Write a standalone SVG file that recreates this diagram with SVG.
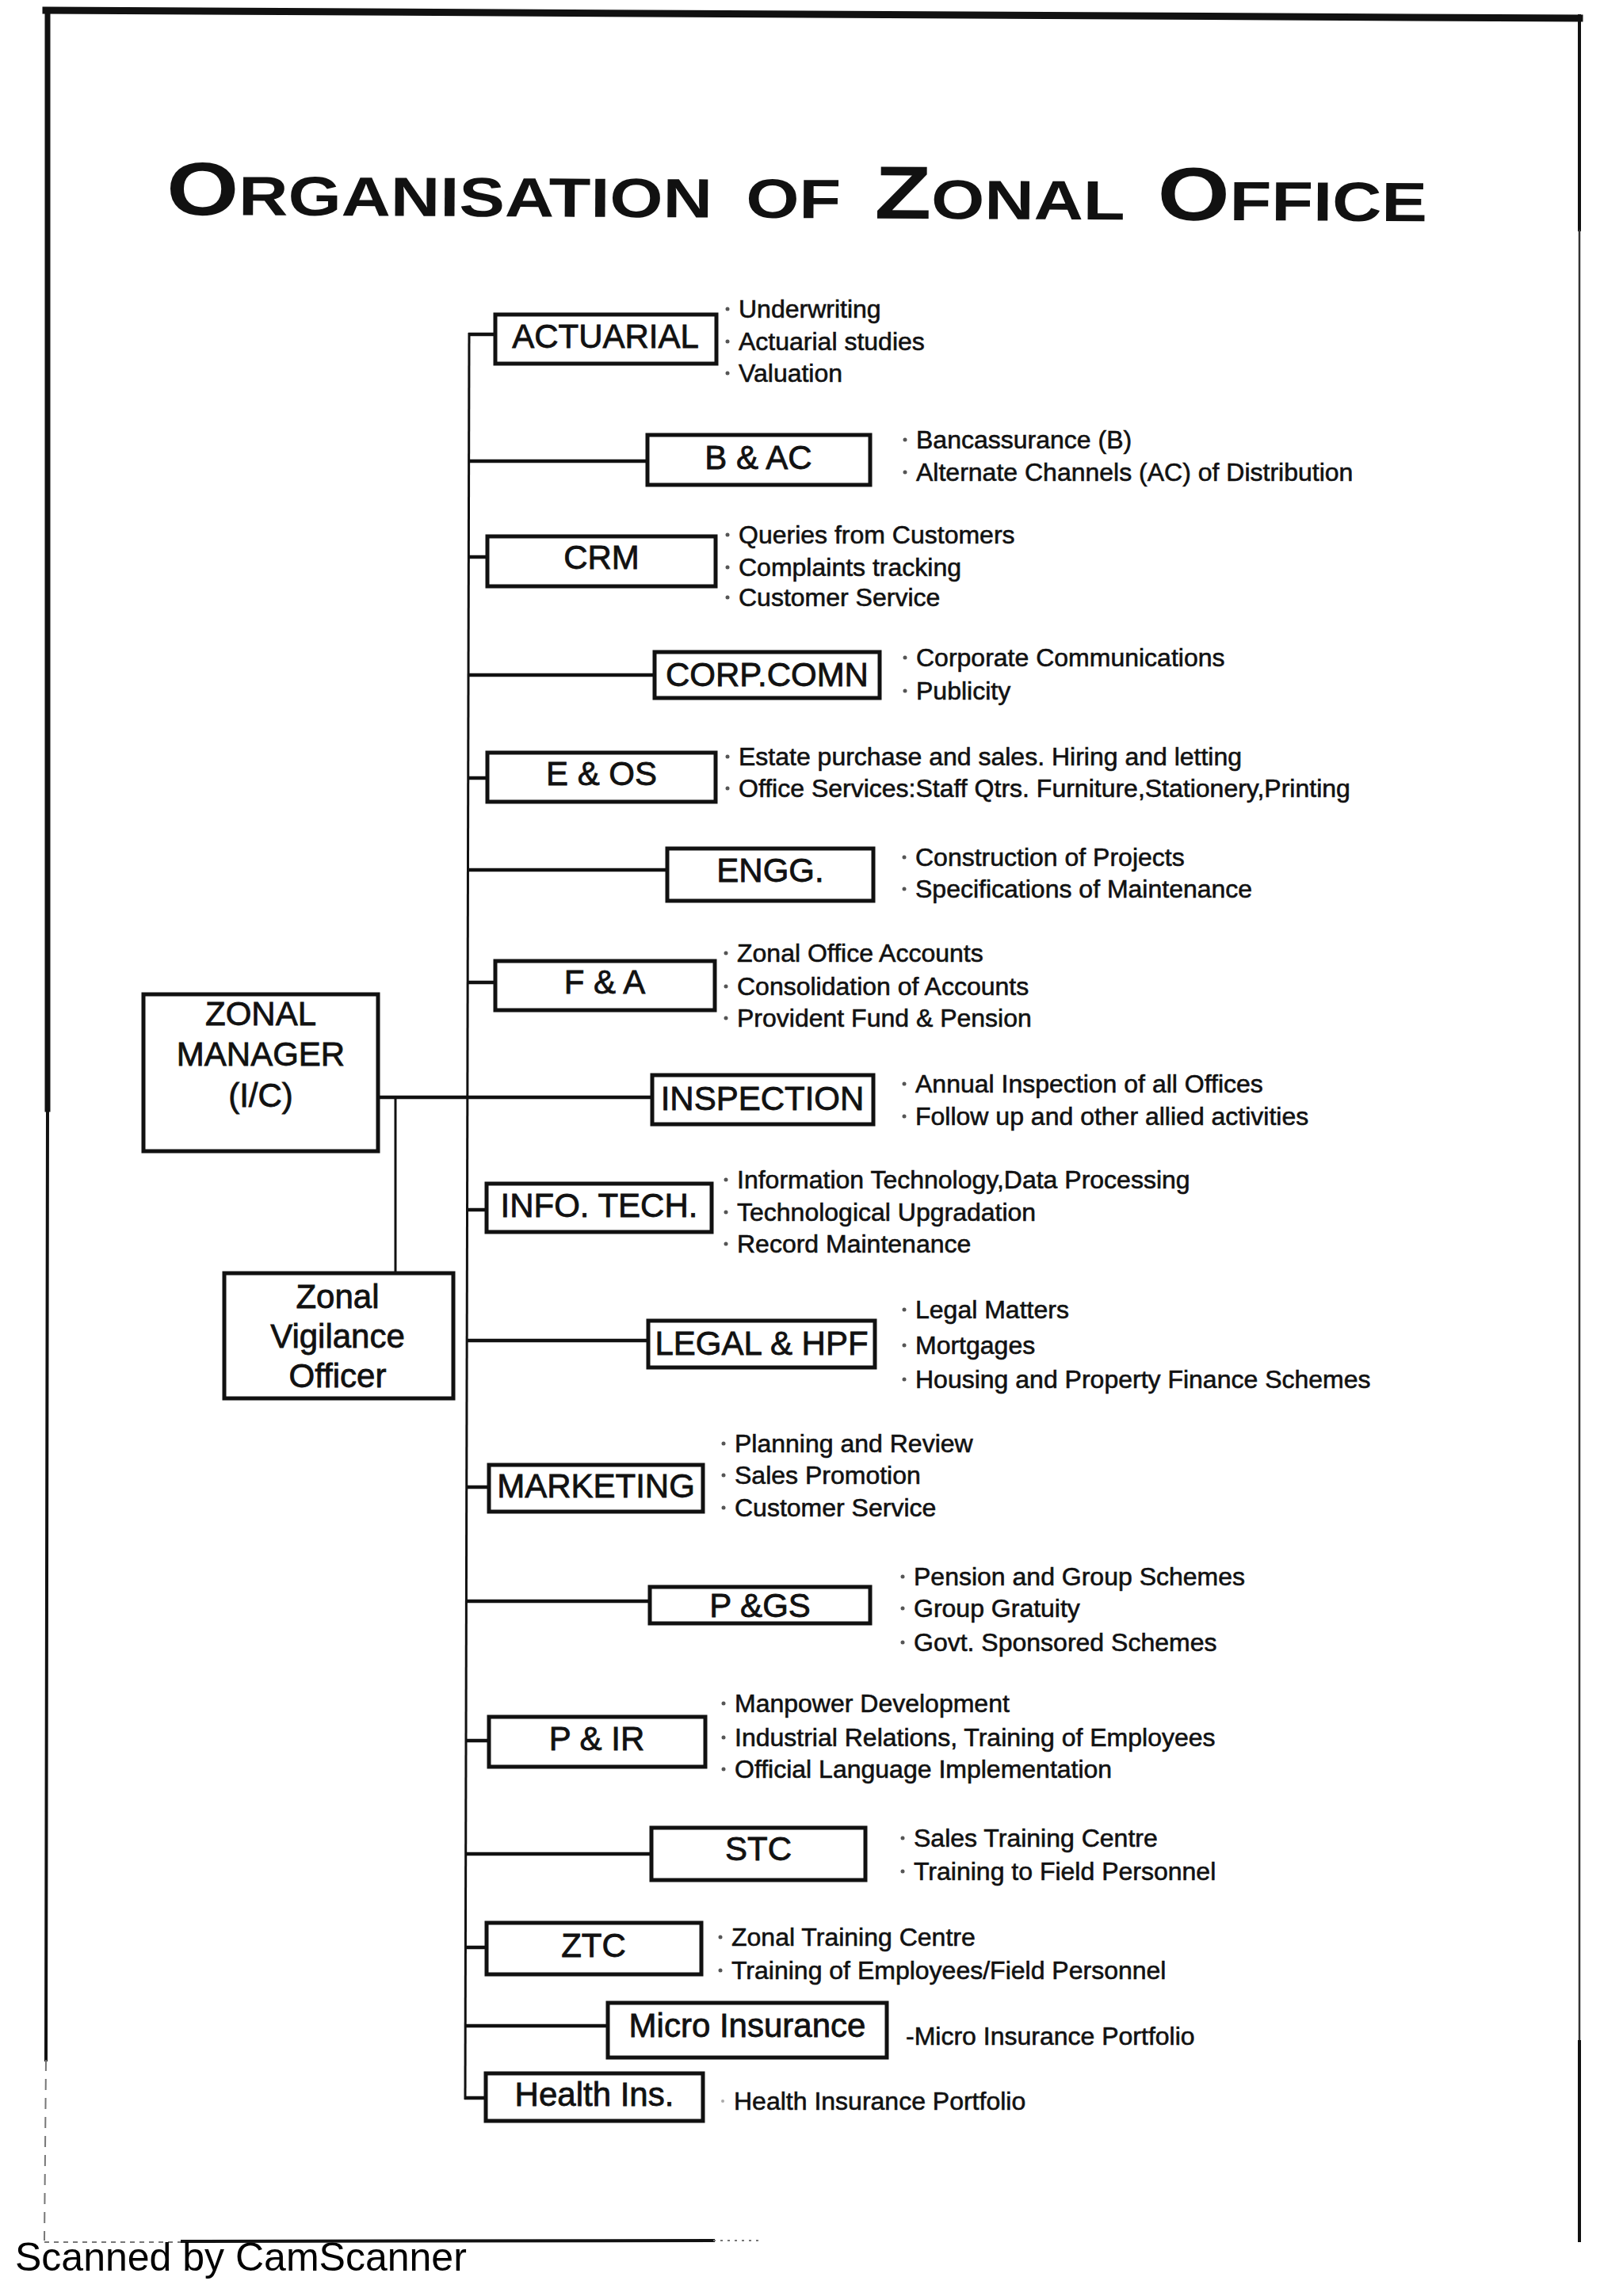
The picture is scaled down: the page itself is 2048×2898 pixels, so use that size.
<svg xmlns="http://www.w3.org/2000/svg" width="2048" height="2898" viewBox="0 0 2048 2898">
<style>
.bg{fill:#fff}
.frame{stroke:#111;fill:none;stroke-linecap:square}
.box{fill:#fff;stroke:#111;stroke-width:5}
.lbl{font-family:"Liberation Sans",Arial,sans-serif;font-size:42px;text-anchor:middle;fill:#111;stroke:#111;stroke-width:0.8px}
.it{font-family:"Liberation Sans",Arial,sans-serif;font-size:32px;fill:#111;stroke:#111;stroke-width:0.6px}
.dot{fill:#555}
.con{stroke:#111;stroke-width:4.5;fill:none}
.thin{stroke:#111;stroke-width:3;fill:none}
.title{font-family:"Liberation Sans",Arial,sans-serif;font-weight:bold;fill:#111;word-spacing:15px}
.scan{font-family:"Liberation Sans",Arial,sans-serif;font-size:50px;fill:#000}
</style>
<rect class="bg" x="0" y="0" width="2048" height="2898"/>

<g id="page-frame">
  <line class="frame" x1="58" y1="13" x2="1993" y2="23" stroke-width="9"/>
  <line class="frame" x1="60" y1="13" x2="60" y2="1400" stroke-width="7"/>
  <line class="frame" x1="60" y1="1400" x2="58" y2="2600" stroke-width="4"/>
  <line x1="58" y1="2600" x2="56" y2="2828" stroke="#777" stroke-width="2" stroke-dasharray="14 10"/>
  <line class="frame" x1="1993" y1="20" x2="1993" y2="290" stroke-width="4"/>
  <line x1="1993" y1="290" x2="1993" y2="2577" stroke="#333" stroke-width="2.5"/>
  <line class="frame" x1="1993" y1="2577" x2="1993" y2="2828" stroke-width="4"/>
  <line x1="56" y1="2830" x2="230" y2="2830" stroke="#777" stroke-width="2" stroke-dasharray="6 6"/>
  <line class="frame" x1="230" y1="2829" x2="900" y2="2828" stroke-width="4"/>
  <line x1="900" y1="2828" x2="960" y2="2828" stroke="#777" stroke-width="2" stroke-dasharray="3 6"/>
</g>

<text class="title" transform="translate(210,271) rotate(0.3) scale(1.233,1)"><tspan font-size="95">O</tspan><tspan font-size="70">RGANISATION OF </tspan><tspan font-size="95">Z</tspan><tspan font-size="70">ONAL </tspan><tspan font-size="95">O</tspan><tspan font-size="70">FFICE</tspan></text>

<g id="connectors">
  <line class="thin" x1="592" y1="420" x2="587" y2="2650"/>
  <line class="con" x1="591" y1="422" x2="625" y2="422"/>
  <line class="con" x1="591" y1="582" x2="817" y2="582"/>
  <line class="con" x1="591" y1="703" x2="615" y2="703"/>
  <line class="con" x1="591" y1="852" x2="826" y2="852"/>
  <line class="con" x1="591" y1="982" x2="615" y2="982"/>
  <line class="con" x1="590" y1="1098" x2="842" y2="1098"/>
  <line class="con" x1="590" y1="1240" x2="625" y2="1240"/>
  <line class="con" x1="477" y1="1385" x2="823" y2="1385"/>
  <line class="thin" x1="499" y1="1385" x2="499" y2="1607"/>
  <line class="con" x1="590" y1="1527" x2="614" y2="1527"/>
  <line class="con" x1="590" y1="1692" x2="818" y2="1692"/>
  <line class="con" x1="589" y1="1877" x2="617" y2="1877"/>
  <line class="con" x1="589" y1="2021" x2="820" y2="2021"/>
  <line class="con" x1="588" y1="2197" x2="617" y2="2197"/>
  <line class="con" x1="588" y1="2340" x2="822" y2="2340"/>
  <line class="con" x1="587" y1="2458" x2="614" y2="2458"/>
  <line class="con" x1="587" y1="2557" x2="767" y2="2557"/>
  <line class="con" x1="586" y1="2648" x2="613" y2="2648"/>
</g>

<g id="zonal-manager">
  <rect class="box" x="181" y="1255" width="296" height="198"/>
  <text class="lbl" x="329" y="1294">ZONAL</text>
  <text class="lbl" x="329" y="1345">MANAGER</text>
  <text class="lbl" x="329" y="1397">(I/C)</text>
</g>

<g id="zonal-vigilance-officer">
  <rect class="box" x="283" y="1607" width="289" height="158"/>
  <text class="lbl" x="426" y="1651">Zonal</text>
  <text class="lbl" x="426" y="1701">Vigilance</text>
  <text class="lbl" x="426" y="1751">Officer</text>
</g>

<g id="actuarial">
  <rect class="box" x="625" y="397" width="279" height="62"/>
  <text class="lbl" x="764" y="439">ACTUARIAL</text>
  <circle class="dot" cx="918" cy="390" r="2.5"/><text class="it" x="932" y="401">Underwriting</text>
  <circle class="dot" cx="918" cy="431" r="2.5"/><text class="it" x="932" y="442">Actuarial studies</text>
  <circle class="dot" cx="918" cy="471" r="2.5"/><text class="it" x="932" y="482">Valuation</text>
</g>

<g id="b-ac">
  <rect class="box" x="817" y="549" width="281" height="63"/>
  <text class="lbl" x="957" y="592">B &amp; AC</text>
  <circle class="dot" cx="1142" cy="555" r="2.5"/><text class="it" x="1156" y="566">Bancassurance (B)</text>
  <circle class="dot" cx="1142" cy="596" r="2.5"/><text class="it" x="1156" y="607">Alternate Channels (AC) of Distribution</text>
</g>

<g id="crm">
  <rect class="box" x="615" y="677" width="288" height="63"/>
  <text class="lbl" x="759" y="718">CRM</text>
  <circle class="dot" cx="918" cy="675" r="2.5"/><text class="it" x="932" y="686">Queries from Customers</text>
  <circle class="dot" cx="918" cy="716" r="2.5"/><text class="it" x="932" y="727">Complaints tracking</text>
  <circle class="dot" cx="918" cy="754" r="2.5"/><text class="it" x="932" y="765">Customer Service</text>
</g>

<g id="corp-comn">
  <rect class="box" x="826" y="823" width="284" height="58"/>
  <text class="lbl" x="968" y="866">CORP.COMN</text>
  <circle class="dot" cx="1142" cy="830" r="2.5"/><text class="it" x="1156" y="841">Corporate Communications</text>
  <circle class="dot" cx="1142" cy="872" r="2.5"/><text class="it" x="1156" y="883">Publicity</text>
</g>

<g id="e-os">
  <rect class="box" x="615" y="950" width="288" height="62"/>
  <text class="lbl" x="759" y="991">E &amp; OS</text>
  <circle class="dot" cx="918" cy="955" r="2.5"/><text class="it" x="932" y="966">Estate purchase and sales. Hiring and letting</text>
  <circle class="dot" cx="918" cy="995" r="2.5"/><text class="it" x="932" y="1006">Office Services:Staff Qtrs. Furniture,Stationery,Printing</text>
</g>

<g id="engg">
  <rect class="box" x="842" y="1071" width="260" height="66"/>
  <text class="lbl" x="972" y="1113">ENGG.</text>
  <circle class="dot" cx="1141" cy="1082" r="2.5"/><text class="it" x="1155" y="1093">Construction of Projects</text>
  <circle class="dot" cx="1141" cy="1122" r="2.5"/><text class="it" x="1155" y="1133">Specifications of Maintenance</text>
</g>

<g id="f-a">
  <rect class="box" x="625" y="1213" width="277" height="62"/>
  <text class="lbl" x="763" y="1254">F &amp; A</text>
  <circle class="dot" cx="916" cy="1203" r="2.5"/><text class="it" x="930" y="1214">Zonal Office Accounts</text>
  <circle class="dot" cx="916" cy="1245" r="2.5"/><text class="it" x="930" y="1256">Consolidation of Accounts</text>
  <circle class="dot" cx="916" cy="1285" r="2.5"/><text class="it" x="930" y="1296">Provident Fund &amp; Pension</text>
</g>

<g id="inspection">
  <rect class="box" x="823" y="1357" width="279" height="62"/>
  <text class="lbl" x="962" y="1401">INSPECTION</text>
  <circle class="dot" cx="1141" cy="1368" r="2.5"/><text class="it" x="1155" y="1379">Annual Inspection of all Offices</text>
  <circle class="dot" cx="1141" cy="1409" r="2.5"/><text class="it" x="1155" y="1420">Follow up and other allied activities</text>
</g>

<g id="info-tech">
  <rect class="box" x="614" y="1494" width="284" height="61"/>
  <text class="lbl" x="756" y="1536">INFO. TECH.</text>
  <circle class="dot" cx="916" cy="1489" r="2.5"/><text class="it" x="930" y="1500">Information Technology,Data Processing</text>
  <circle class="dot" cx="916" cy="1530" r="2.5"/><text class="it" x="930" y="1541">Technological Upgradation</text>
  <circle class="dot" cx="916" cy="1570" r="2.5"/><text class="it" x="930" y="1581">Record Maintenance</text>
</g>

<g id="legal-hpf">
  <rect class="box" x="818" y="1667" width="286" height="59"/>
  <text class="lbl" x="961" y="1710">LEGAL &amp; HPF</text>
  <circle class="dot" cx="1141" cy="1653" r="2.5"/><text class="it" x="1155" y="1664">Legal Matters</text>
  <circle class="dot" cx="1141" cy="1698" r="2.5"/><text class="it" x="1155" y="1709">Mortgages</text>
  <circle class="dot" cx="1141" cy="1741" r="2.5"/><text class="it" x="1155" y="1752">Housing and Property Finance Schemes</text>
</g>

<g id="marketing">
  <rect class="box" x="617" y="1849" width="270" height="59"/>
  <text class="lbl" x="752" y="1890">MARKETING</text>
  <circle class="dot" cx="913" cy="1822" r="2.5"/><text class="it" x="927" y="1833">Planning and Review</text>
  <circle class="dot" cx="913" cy="1862" r="2.5"/><text class="it" x="927" y="1873">Sales Promotion</text>
  <circle class="dot" cx="913" cy="1903" r="2.5"/><text class="it" x="927" y="1914">Customer Service</text>
</g>

<g id="p-gs">
  <rect class="box" x="820" y="2003" width="278" height="46"/>
  <text class="lbl" x="959" y="2041">P &amp;GS</text>
  <circle class="dot" cx="1139" cy="1990" r="2.5"/><text class="it" x="1153" y="2001">Pension and Group Schemes</text>
  <circle class="dot" cx="1139" cy="2030" r="2.5"/><text class="it" x="1153" y="2041">Group Gratuity</text>
  <circle class="dot" cx="1139" cy="2073" r="2.5"/><text class="it" x="1153" y="2084">Govt. Sponsored Schemes</text>
</g>

<g id="p-ir">
  <rect class="box" x="617" y="2167" width="273" height="63"/>
  <text class="lbl" x="753" y="2209">P &amp; IR</text>
  <circle class="dot" cx="913" cy="2150" r="2.5"/><text class="it" x="927" y="2161">Manpower Development</text>
  <circle class="dot" cx="913" cy="2193" r="2.5"/><text class="it" x="927" y="2204">Industrial Relations, Training of Employees</text>
  <circle class="dot" cx="913" cy="2233" r="2.5"/><text class="it" x="927" y="2244">Official Language Implementation</text>
</g>

<g id="stc">
  <rect class="box" x="822" y="2307" width="270" height="66"/>
  <text class="lbl" x="957" y="2348">STC</text>
  <circle class="dot" cx="1139" cy="2320" r="2.5"/><text class="it" x="1153" y="2331">Sales Training Centre</text>
  <circle class="dot" cx="1139" cy="2362" r="2.5"/><text class="it" x="1153" y="2373">Training to Field Personnel</text>
</g>

<g id="ztc">
  <rect class="box" x="614" y="2427" width="271" height="65"/>
  <text class="lbl" x="749" y="2470">ZTC</text>
  <circle class="dot" cx="909" cy="2445" r="2.5"/><text class="it" x="923" y="2456">Zonal Training Centre</text>
  <circle class="dot" cx="909" cy="2487" r="2.5"/><text class="it" x="923" y="2498">Training of Employees/Field Personnel</text>
</g>

<g id="micro-insurance">
  <rect class="box" x="767" y="2528" width="352" height="69"/>
  <text class="lbl" x="943" y="2571">Micro Insurance</text>
  <text class="it" x="1143" y="2581">-Micro Insurance Portfolio</text>
</g>

<g id="health-ins">
  <rect class="box" x="613" y="2617" width="274" height="60"/>
  <text class="lbl" x="750" y="2658">Health Ins.</text>
  <circle class="dot" cx="912" cy="2652" r="2" fill-opacity="0.5"/><text class="it" x="926" y="2663">Health Insurance Portfolio</text>
</g>

<text class="scan" x="19" y="2866">Scanned by CamScanner</text>
</svg>
